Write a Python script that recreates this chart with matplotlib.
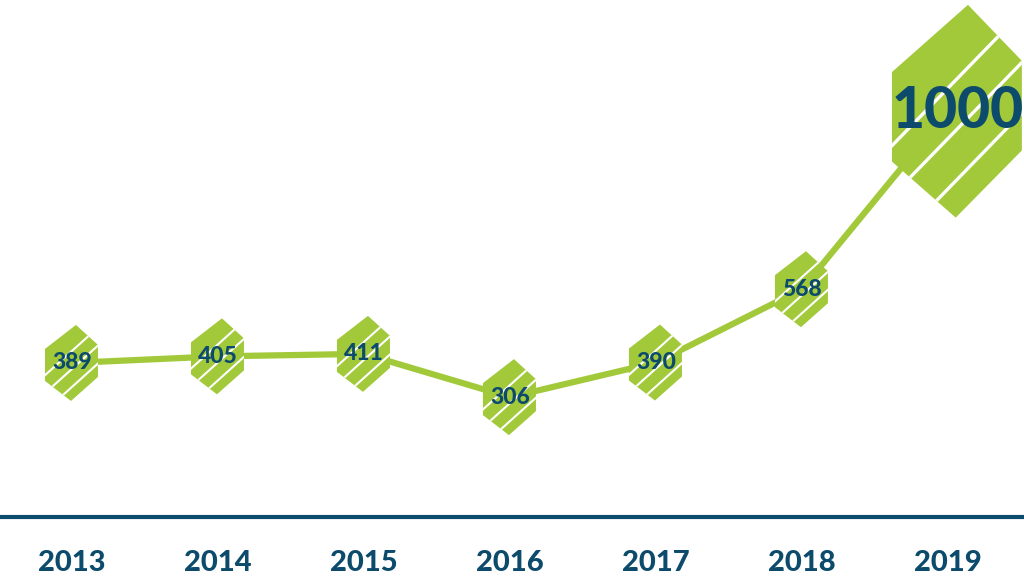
import numpy as np
import matplotlib
matplotlib.use("Agg")
import matplotlib.pyplot as plt
from matplotlib.patches import Polygon
from matplotlib.transforms import Affine2D, ScaledTranslation

years = [2013, 2014, 2015, 2016, 2017, 2018, 2019]
values = [389, 405, 411, 306, 390, 568, 1000]
labels = ["389", "405", "411", "306", "390", "568", "1000"]

GREEN = "#a2c93a"
BLUE = "#0d4b6c"

plt.rcParams["font.family"] = ["Lato", "DejaVu Sans"]

fig = plt.figure(figsize=(10.24, 5.8), dpi=100)
ax = fig.add_axes([0, (580 - 517) / 580, 1, 517 / 580])
ax.set_xlim(2012.507, 2019.521)
ax.set_ylim(15, 1270)

ax.plot(years, values, color=GREEN, lw=4.5, solid_capstyle="round", zorder=2)

# scribbled hexagon marker, shape in pixels around the point
hexagon = np.array([(-27, 14), (4, 38), (26, 18), (26, -14), (-1, -38), (-27, -18)])


def scribble(x, y, sx, sy):
    trans = Affine2D().scale(sx, sy) + ScaledTranslation(x, y, ax.transData)
    poly = Polygon(hexagon, closed=True, facecolor=GREEN, edgecolor="none",
                   transform=trans, zorder=3)
    ax.add_patch(poly)
    # white gaps between the strokes
    for off in [-24, -6, 12]:
        t = np.linspace(-60, 60, 2)
        ln, = ax.plot(t, 0.9 * t + off, color="white", lw=1.5 * min(sx, 1.6),
                      transform=trans, zorder=4)
        ln.set_clip_path(poly)


for i, (yr, v) in enumerate(zip(years, values)):
    if i == len(years) - 1:
        scribble(yr + 0.07, v, 2.45, 2.8)
        ax.text(yr + 0.07, v, labels[i], color=BLUE, fontsize=41, fontweight="black",
                ha="center", va="center", zorder=5)
    else:
        scribble(yr, v, 1.0, 1.0)
        ax.text(yr, v, labels[i], color=BLUE, fontsize=16.5, fontweight="black",
                ha="center", va="center", zorder=5)

for s in ["top", "left", "right"]:
    ax.spines[s].set_visible(False)
ax.spines["bottom"].set_color(BLUE)
ax.spines["bottom"].set_linewidth(3)
ax.set_yticks([])
ax.set_xticks(years)
ax.set_xticklabels([str(y) for y in years], fontsize=21, fontweight="black", color=BLUE)
ax.tick_params(axis="x", length=0, pad=24)
ax.patch.set_alpha(0)

fig.savefig("out.png", dpi=100)
